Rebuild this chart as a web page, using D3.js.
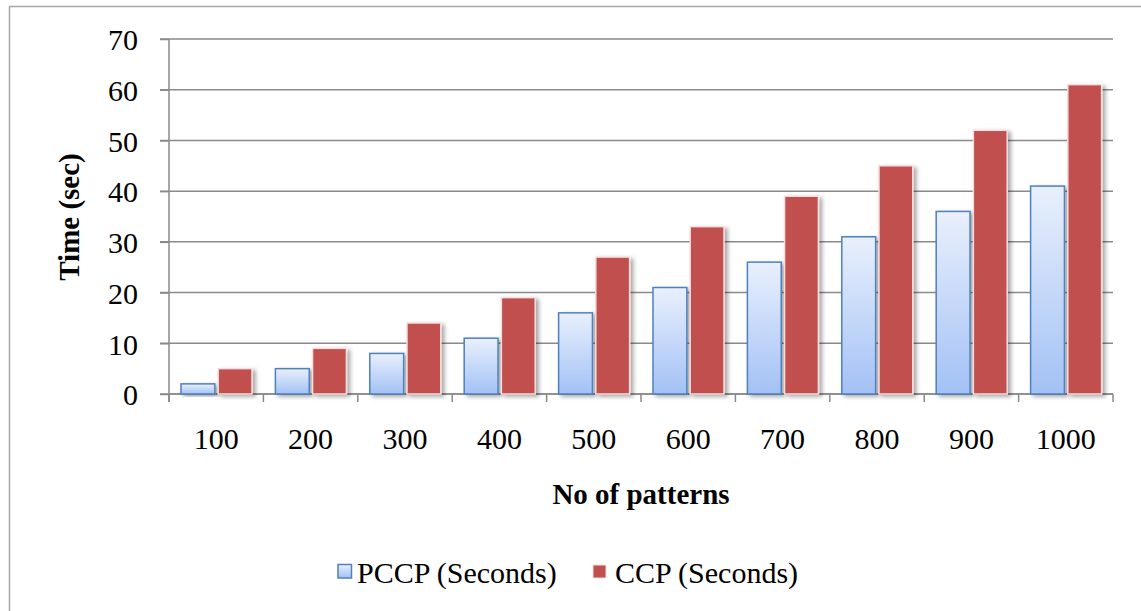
<!DOCTYPE html>
<html>
<head>
<meta charset="utf-8">
<script src="https://cdn.jsdelivr.net/npm/d3@7"></script>
<style>
  html, body { margin: 0; padding: 0; background: #fff; }
  svg { display: block; }
  text { font-family: "Liberation Serif", "Times New Roman", serif; fill: #000; }
</style>
</head>
<body>
<svg id="chart" width="1141" height="611"></svg>
<script>
const categories = ["100", "200", "300", "400", "500", "600", "700", "800", "900", "1000"];
const pccpValues = [2, 5, 8, 11, 16, 21, 26, 31, 36, 41];
const ccpValues = [5, 9, 14, 19, 27, 33, 39, 45, 52, 61];
const yTicks = [0, 10, 20, 30, 40, 50, 60, 70];
const seriesNames = ["PCCP (Seconds)", "CCP (Seconds)"];
const xTitle = "No of patterns";
const yTitle = "Time (sec)";

const svg = d3.select("#chart");
const plotLeft = 169, plotRight = 1113, plotTop = 39, plotBottom = 394;

// outer border
svg.append("rect").attr("x", 9.5).attr("y", 6.5).attr("width", 1160).attr("height", 640)
  .attr("fill", "none").attr("stroke", "#a6a6a6").attr("stroke-width", 1.5);

const defs = svg.append("defs");
const grad = defs.append("linearGradient").attr("id", "blueGrad")
  .attr("x1", 0).attr("y1", 0).attr("x2", 0).attr("y2", 1);
grad.append("stop").attr("offset", "0%").attr("stop-color", "#e9f0fd");
grad.append("stop").attr("offset", "100%").attr("stop-color", "#a3c1f5");

const shadow = defs.append("filter").attr("id", "shadow")
  .attr("x", "-20%").attr("y", "-20%").attr("width", "160%").attr("height", "140%");
shadow.append("feDropShadow").attr("dx", 3).attr("dy", 2).attr("stdDeviation", 2)
  .attr("flood-color", "#000").attr("flood-opacity", 0.35);

const y = d3.scaleLinear().domain([0, 70]).range([plotBottom, plotTop]);
const x = d3.scaleBand().domain(categories).range([plotLeft, plotRight]).padding(0);
const xs = d3.scaleBand().domain(seriesNames).range([12, 83]).paddingInner(0.09);

// gridlines
svg.append("g").selectAll("line").data(yTicks).join("line")
  .attr("x1", plotLeft - 9).attr("x2", plotRight)
  .attr("y1", d => y(d)).attr("y2", d => y(d))
  .attr("stroke", "#8a8a8a").attr("stroke-width", 1.5);

// y axis
const yAxis = svg.append("g").attr("transform", `translate(${plotLeft},0)`)
  .call(d3.axisLeft(y).tickValues(yTicks).tickSize(9).tickPadding(22));
yAxis.select(".domain").remove();
yAxis.selectAll(".tick line").attr("stroke", "#8a8a8a").attr("stroke-width", 1.5);
yAxis.selectAll(".tick text").attr("font-size", 30).attr("font-family", "Liberation Serif").attr("dy", "0.36em");
svg.append("line").attr("x1", plotLeft).attr("x2", plotLeft).attr("y1", plotTop).attr("y2", plotBottom + 8)
  .attr("stroke", "#8a8a8a").attr("stroke-width", 1.5);

// x axis
const xAxis = svg.append("g").attr("transform", `translate(0,${plotBottom})`)
  .call(d3.axisBottom(x).tickSize(0).tickPadding(34));
xAxis.select(".domain").remove();
xAxis.selectAll(".tick text").attr("font-size", 30).attr("font-family", "Liberation Serif");
const bounds = categories.map(c => x(c)).concat([x(categories[categories.length - 1]) + x.bandwidth()]);
svg.append("g").selectAll("line").data(bounds).join("line")
  .attr("x1", d => d).attr("x2", d => d).attr("y1", plotBottom).attr("y2", plotBottom + 8)
  .attr("stroke", "#8a8a8a").attr("stroke-width", 1.5);
svg.append("line").attr("x1", plotLeft).attr("x2", plotRight).attr("y1", plotBottom).attr("y2", plotBottom)
  .attr("stroke", "#8a8a8a").attr("stroke-width", 1.5);

// bars
const rows = categories.map((c, i) => ({ c, v: [pccpValues[i], ccpValues[i]] }));
const groups = svg.append("g").selectAll("g").data(rows).join("g")
  .attr("transform", d => `translate(${x(d.c)},0)`);
groups.append("rect")
  .attr("x", xs(seriesNames[0])).attr("width", xs.bandwidth())
  .attr("y", d => y(d.v[0])).attr("height", d => y(0) - y(d.v[0]))
  .attr("fill", "url(#blueGrad)").attr("stroke", "#4f81bd").attr("stroke-width", 1.5)
  .attr("filter", "url(#shadow)");
groups.append("rect")
  .attr("x", xs(seriesNames[1])).attr("width", xs.bandwidth())
  .attr("y", d => y(d.v[1])).attr("height", d => y(0) - y(d.v[1]))
  .attr("fill", "#c0504d").attr("stroke", "#f6dede").attr("stroke-width", 1.5)
  .attr("filter", "url(#shadow)");

// axis titles
svg.append("text").attr("x", 641).attr("y", 504).attr("text-anchor", "middle")
  .attr("font-size", 29).attr("font-weight", "bold").text(xTitle);
svg.append("text").attr("transform", "translate(79,217) rotate(-90)").attr("text-anchor", "middle")
  .attr("font-size", 29).attr("font-weight", "bold").text(yTitle);

// legend
const legend = svg.append("g");
legend.append("rect").attr("x", 338).attr("y", 564.5).attr("width", 13.5).attr("height", 13.5)
  .attr("fill", "url(#blueGrad)").attr("stroke", "#4f81bd").attr("stroke-width", 1.5);
legend.append("text").attr("x", 357).attr("y", 583).attr("font-size", 30).text(seriesNames[0]);
legend.append("rect").attr("x", 593).attr("y", 565).attr("width", 13).attr("height", 13)
  .attr("fill", "#c0504d").attr("stroke", "#f6dede").attr("stroke-width", 1);
legend.append("text").attr("x", 615).attr("y", 583).attr("font-size", 30).text(seriesNames[1]);
</script>
</body>
</html>
